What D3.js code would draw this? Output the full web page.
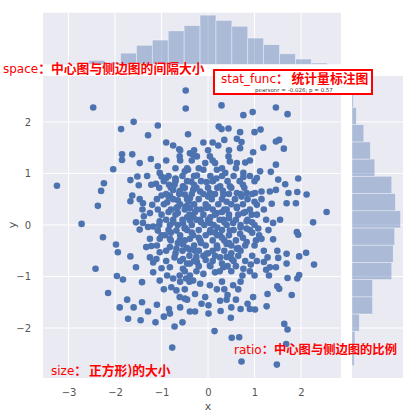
<!DOCTYPE html>
<html>
<head>
<meta charset="utf-8">
<script src="https://cdn.jsdelivr.net/npm/d3@7"></script>
<style>
  body { margin: 0; background: #fff; }
  svg { display: block; }
</style>
</head>
<body>
<svg id="chart" width="409" height="417"></svg>
<script>
// ---- data ----
const xTicks = [-3, -2, -1, 0, 1, 2];
const yTicks = [-2, -1, 0, 1, 2];

// marginal histograms (counts per bin, low -> high)
const xBinStart = -3.25, xBinWidth = 0.342;
const xCounts = [1, 1, 6, 3, 17, 29, 37, 51, 59, 75, 67, 58, 40, 30, 16, 8, 2];
const yBinStart = -2.73, yBinWidth = 0.334;
const yCounts = [3, 4, 10, 28, 28, 54, 56, 58, 66, 59, 54, 31, 25, 16, 6, 2];

const statText = "pearsonr = -0.026; p = 0.57";

// scatter points [x, y]
const points = [
  // upper left
  [-0.48,2.61],[-0.48,2.26],[-2.47,2.28],[-1.60,2.0],[-1.08,1.93],[-1.87,1.86],[-1.29,1.74],[-0.43,1.76],
  [-0.75,1.54],[-0.62,1.47],[-0.39,1.39],[-0.61,1.33],[-1.85,1.37],[-1.63,1.37],[-1.85,1.26],[-1.47,1.20],
  [-1.23,1.28],[-2.04,1.08],[-1.08,1.14],[-1.04,1.01],[-0.50,1.04],[-0.43,1.07],[-3.25,0.76],[-2.24,0.81],
  [-2.30,0.66],[-2.37,0.37],[-2.72,0.02],[-1.67,0.87],[-1.52,0.94],[-1.49,0.77],[-1.31,0.95],[-1.22,0.78],
  [-1.12,0.80],[-1.00,0.94],[-0.90,0.91],[-0.70,0.89],[-0.84,0.78],[-0.72,0.78],[-0.75,0.68],[-0.54,0.75],
  [-0.36,0.84],[-0.61,0.65],[-0.50,0.59],[-0.39,0.52],[-1.00,0.57],[-0.82,0.57],[-1.63,0.57],[-1.67,0.46],
  [-1.47,0.50],[-1.40,0.42],[-1.20,0.39],[-0.88,0.44],[-0.65,0.48],[-1.41,0.30],[-1.08,0.30],[-0.68,0.33],
  [-0.65,0.23],[-0.47,0.36],[-1.25,0.23],[-1.38,0.17],[-1.55,0.05],[-1.40,0.04],[-1.04,0.07],[-0.75,0.10],
  [-0.54,0.04],[-0.39,0.09],[-0.82,0.00],[-1.18,-0.03],
  // upper right
  [0.29,2.32],[1.46,2.28],[0.96,2.19],[0.76,2.13],[1.71,2.15],[0.23,1.91],[0.29,1.86],[0.44,1.87],
  [0.69,1.80],[1.00,1.80],[1.13,1.85],[0.62,1.67],[0.35,1.65],[0.22,1.54],[0.72,1.61],[0.69,1.49],
  [0.97,1.41],[1.19,1.50],[1.46,1.62],[1.53,1.65],[1.63,1.48],[-0.32,1.36],[-0.24,1.33],[0.04,1.33],
  [-0.06,1.20],[0.15,1.20],[0.44,1.33],[0.47,1.23],[0.62,1.20],[0.80,1.21],[1.46,1.17],[-0.10,1.07],
  [0.19,1.07],[0.37,1.01],[0.76,1.01],[1.12,1.04],[1.35,1.03],[-0.24,0.96],[0.76,0.93],[1.05,0.91],
  [1.51,0.88],[1.94,0.90],[1.66,0.79],[-0.03,0.83],[0.11,0.86],[0.26,0.75],[0.47,0.75],[1.15,0.65],
  [1.33,0.65],[1.46,0.68],[1.73,0.62],[1.92,0.64],[2.12,0.59],[-0.32,0.68],[-0.17,0.65],[0.04,0.62],
  [0.33,0.59],[0.62,0.62],[0.83,0.62],[1.01,0.62],[1.69,0.42],[1.89,0.42],[1.37,0.41],[1.05,0.39],
  [2.55,0.25],[2.26,0.05],[-0.24,0.30],[-0.03,0.33],[0.19,0.23],[0.40,0.30],[0.62,0.33],[0.76,0.23],
  [0.94,0.20],[-0.17,0.10],[0.04,0.04],[0.33,0.10],[0.54,0.04],[0.83,0.07],[1.40,0.04],[1.55,0.10],
  [-0.39,0.33],[-0.32,0.17],
  // lower left
  [-2.26,-0.24],[-1.98,-0.38],[-1.94,-0.53],[-1.67,-0.61],[-2.42,-0.85],[-1.55,-0.82],[-1.96,-0.99],[-1.83,-1.06],
  [-1.42,-1.11],[-2.15,-1.32],[-1.74,-1.45],[-1.90,-1.60],[-1.60,-1.60],[-1.42,-1.50],[-1.29,-1.68],[-1.10,-1.55],
  [-1.72,-1.82],[-1.45,-1.85],[-1.13,-1.89],[-0.95,-1.78],[-0.84,-1.63],[-0.82,-1.72],[-0.72,-1.97],[-0.55,-1.89],
  [-0.39,-1.68],[-0.77,-2.38],[-0.61,-1.40],[-0.50,-1.43],[-0.79,-1.21],[-0.68,-1.27],[-1.04,-1.08],[-1.18,-0.92],
  [-1.00,-0.84],[-0.88,-0.98],[-0.75,-1.04],[-0.61,-0.98],[-0.47,-1.04],[-0.39,-0.98],[-1.18,-0.73],[-1.33,-0.43],
  [-1.22,-0.41],[-1.04,-0.53],[-1.25,-0.63],[-1.11,-0.66],[-0.82,-0.43],[-0.68,-0.46],[-0.54,-0.38],[-0.39,-0.48],
  [-0.72,-0.63],[-0.54,-0.66],[-0.39,-0.75],[-0.82,-0.82],[-0.54,-0.85],[-1.47,-0.09],[-1.29,-0.04],[-1.08,-0.11],
  [-1.25,-0.27],[-1.04,-0.27],[-0.93,-0.20],[-0.82,-0.27],[-0.68,-0.11],[-0.50,-0.07],[-0.39,-0.27],[-0.61,-0.30],
  // lower right
  [1.91,-0.14],[1.94,-0.19],[1.08,-0.07],[1.40,-0.28],[1.15,-0.27],[1.03,-0.30],[0.83,-0.33],[1.49,-0.50],
  [1.69,-0.56],[1.51,-0.64],[1.28,-0.63],[1.96,-0.61],[2.11,-0.54],[2.28,-0.77],[1.20,-0.72],[1.33,-0.82],
  [1.46,-0.82],[1.69,-0.75],[1.25,-0.87],[1.31,-0.98],[1.71,-1.03],[1.96,-0.97],[1.92,-1.04],[1.00,-0.98],
  [0.92,-0.77],[0.76,-0.85],[0.74,-0.98],[0.54,-1.17],[0.42,-1.36],[0.97,-1.40],[1.28,-1.34],[1.49,-1.19],
  [1.53,-1.24],[1.80,-1.36],[0.85,-1.53],[0.90,-1.63],[1.01,-1.64],[0.70,-1.63],[1.26,-1.58],[0.49,-1.80],
  [0.27,-1.67],[1.64,-1.92],[1.71,-2.03],[0.14,-2.06],[0.51,-2.19],[0.67,-2.18],[1.68,-2.31],[0.72,-2.65],
  [1.48,-2.71],[-0.32,-0.20],[-0.17,-0.30],[0.04,-0.14],[0.26,-0.20],[0.47,-0.11],[0.69,-0.17],[0.83,-0.07],
  [0.19,-0.40],[0.40,-0.37],[0.62,-0.46],[-0.28,-0.50],[-0.03,-0.56],[0.26,-0.63],[0.51,-0.66],[-0.24,-0.72],
  [0.04,-0.79],[0.33,-0.82],[-0.10,-0.95],[0.15,-0.92],[-0.32,-1.08],[-0.17,-1.14],[0.04,-1.17],[0.19,-1.25],
  [-0.28,-1.34],[-0.06,-1.40],[-0.14,-1.53],[0.01,-1.56],[-0.28,-1.68],[0.01,-1.72],[0.26,-1.47],
  // dense centre
  [-0.85,0.95],[-0.55,0.95],[-0.30,0.95],[0.05,0.95],[0.30,0.95],[0.55,0.95],[0.90,0.95],
  [-0.95,0.85],[-0.70,0.85],[-0.45,0.85],[-0.15,0.85],[0.10,0.85],[0.42,0.85],[0.68,0.85],[1.00,0.85],
  [-1.05,0.72],[-0.80,0.72],[-0.50,0.72],[-0.25,0.72],[0.00,0.72],[0.20,0.72],[0.50,0.72],[0.78,0.72],
  [-0.90,0.60],[-0.62,0.60],[-0.35,0.60],[-0.10,0.60],[0.15,0.60],[0.45,0.60],[0.70,0.60],[0.95,0.60],
  [-1.10,0.50],[-0.75,0.50],[-0.45,0.50],[-0.20,0.50],[0.08,0.50],[0.30,0.50],[0.58,0.50],[0.85,0.50],[1.15,0.50],
  [-0.95,0.40],[-0.60,0.40],[-0.30,0.40],[-0.05,0.40],[0.22,0.40],[0.50,0.40],[0.75,0.40],
  [-0.80,0.30],[-0.50,0.30],[-0.15,0.30],[0.10,0.30],[0.35,0.30],[0.90,0.30],[1.20,0.30],
  [-1.00,0.20],[-0.70,0.20],[-0.40,0.20],[-0.10,0.20],[0.15,0.20],[0.45,0.20],[0.65,0.20],[1.05,0.20],
  [-0.90,0.10],[-0.55,0.10],[-0.25,0.10],[0.00,0.10],[0.25,0.10],[0.60,0.10],[0.85,0.10],[1.25,0.10],
  [-1.05,0.00],[-0.65,0.00],[-0.35,0.00],[-0.08,0.00],[0.12,0.00],[0.40,0.00],[0.70,0.00],[1.00,0.00],
  [-0.85,-0.10],[-0.45,-0.10],[-0.20,-0.10],[0.05,-0.10],[0.30,-0.10],[0.55,-0.10],[0.90,-0.10],[1.30,-0.10],
  [-1.00,-0.20],[-0.60,-0.20],[-0.05,-0.20],[0.20,-0.20],[0.45,-0.20],[1.10,-0.20],
  [-0.80,-0.30],[-0.50,-0.30],[0.10,-0.30],[0.35,-0.30],[0.60,-0.30],
  [-1.10,-0.40],[-0.30,-0.40],[-0.05,-0.40],[0.50,-0.40],[0.80,-0.40],[1.00,-0.40],
  [-0.90,-0.50],[-0.55,-0.50],[-0.20,-0.50],[0.10,-0.50],[0.35,-0.50],[0.70,-0.50],[1.20,-0.50],
  [-0.40,-0.60],[-0.10,-0.60],[0.15,-0.60],[0.65,-0.60],[0.95,-0.60],
  [-0.90,-0.70],[-0.60,-0.70],[-0.30,-0.70],[0.10,-0.70],[0.55,-0.70],[0.80,-0.70],[1.05,-0.70],
  [-0.20,-0.80],[0.05,-0.80],[0.42,-0.80],[0.60,-0.80],
  [-0.50,-0.90],[-0.25,-0.90],[0.25,-0.90],[0.50,-0.90],[0.90,-0.90],
  [-0.70,1.10],[-0.45,1.10],[-0.20,1.10],[0.30,1.10],[0.60,1.10],
  [-0.90,1.25],[-0.60,1.25],[-0.35,1.25],[0.10,1.25],[0.90,1.25],
  [-0.60,1.45],[-0.30,1.45],[0.00,1.45],[0.45,1.45],
  [-0.90,1.60],[-0.10,1.60],[0.10,1.60],
  [-0.60,-1.10],[-0.40,-1.10],[0.30,-1.10],[0.70,-1.10],
  [-0.95,-1.25],[-0.50,-1.25],[0.35,-1.25],[0.65,-1.25],
  [-0.45,-1.45],[0.40,-1.45],[0.60,-1.45],
  [-0.60,-1.60],[0.50,-1.60],
  [-0.70,0.90],[0.18,0.90],[0.75,0.78],[-0.30,0.78],[-0.60,0.66],[0.32,0.66],[-0.85,0.55],[0.00,0.55],
  [0.72,0.55],[-0.42,0.45],[0.40,0.45],[1.00,0.45],[-0.65,0.35],[0.00,0.35],[0.62,0.35],[-0.85,0.25],
  [-0.28,0.25],[0.30,0.25],[0.80,0.25],[-0.45,0.15],[0.05,0.15],[0.45,0.13],[-0.75,0.05],[-0.15,0.05],
  [0.35,0.05],[0.95,0.05],[-0.50,-0.05],[0.20,-0.05],[0.70,-0.05],[-0.80,-0.15],[-0.35,-0.15],[0.15,-0.15],
  [0.95,-0.15],[-0.20,-0.25],[0.30,-0.25],[0.75,-0.25],[-0.65,-0.35],[-0.15,-0.35],[0.45,-0.35],[-0.45,-0.45],
  [0.20,-0.45],[0.65,-0.45],[-0.70,-0.55],[0.00,-0.55],[0.50,-0.55],[-0.25,-0.62],[0.40,-0.62],[-0.45,-0.75],
  [0.30,-0.75],[-0.05,-0.68]
];

// annotation texts (latin part, chinese part)
const noteSpace = ["space", "：中心图与侧边图的间隔大小"];
const noteStat = ["stat_func", "：统计量标注图"];
const noteSize = ["size", "：正方形)的大小"];
const noteRatio = ["ratio", "：中心图与侧边图的比例"];

// ---- drawing ----
const svg = d3.select("#chart");
const bg = "#EAEAF2";
const blue = "#4C72B0";

const main = { left: 43, right: 341, top: 76, bottom: 378 };
const margTop = { top: 12.7, bottom: 64.3 };
const margRight = { left: 352, right: 403 };

const x = d3.scaleLinear().domain([-3.55, 2.86]).range([main.left, main.right]);
const y = d3.scaleLinear().domain([-2.97, 2.89]).range([main.bottom, main.top]);
const hx = d3.scaleLinear().domain([0, d3.max(xCounts) * 1.05]).range([margTop.bottom, margTop.top]);
const hy = d3.scaleLinear().domain([0, d3.max(yCounts) * 1.05]).range([margRight.left, margRight.right]);

const xBins = xCounts.map((c, i) => ({ x0: xBinStart + i * xBinWidth, x1: xBinStart + (i + 1) * xBinWidth, c }));
const yBins = yCounts.map((c, i) => ({ y0: yBinStart + i * yBinWidth, y1: yBinStart + (i + 1) * yBinWidth, c }));

// backgrounds
svg.append("rect").attr("x", main.left).attr("y", main.top)
  .attr("width", main.right - main.left).attr("height", main.bottom - main.top).attr("fill", bg);
svg.append("rect").attr("x", main.left).attr("y", margTop.top)
  .attr("width", main.right - main.left).attr("height", margTop.bottom - margTop.top).attr("fill", bg);
svg.append("rect").attr("x", margRight.left).attr("y", main.top)
  .attr("width", margRight.right - margRight.left).attr("height", main.bottom - main.top).attr("fill", bg);

// grid lines
const grid = svg.append("g").attr("stroke", "#fff").attr("stroke-width", 1);
xTicks.forEach(t => {
  grid.append("line").attr("x1", x(t)).attr("x2", x(t)).attr("y1", main.top).attr("y2", main.bottom);
  grid.append("line").attr("x1", x(t)).attr("x2", x(t)).attr("y1", margTop.top).attr("y2", margTop.bottom);
});
yTicks.forEach(t => {
  grid.append("line").attr("y1", y(t)).attr("y2", y(t)).attr("x1", main.left).attr("x2", main.right);
  grid.append("line").attr("y1", y(t)).attr("y2", y(t)).attr("x1", margRight.left).attr("x2", margRight.right);
});

// marginal histograms
svg.append("g").selectAll("rect").data(xBins).join("rect")
  .attr("x", d => x(d.x0)).attr("width", d => x(d.x1) - x(d.x0))
  .attr("y", d => hx(d.c)).attr("height", d => hx(0) - hx(d.c))
  .attr("fill", blue).attr("fill-opacity", 0.4)
  .attr("stroke", "#fff").attr("stroke-opacity", 0.45).attr("stroke-width", 0.8);

svg.append("g").selectAll("rect").data(yBins).join("rect")
  .attr("y", d => y(d.y1)).attr("height", d => y(d.y0) - y(d.y1))
  .attr("x", hy(0)).attr("width", d => hy(d.c) - hy(0))
  .attr("fill", blue).attr("fill-opacity", 0.4)
  .attr("stroke", "#fff").attr("stroke-opacity", 0.45).attr("stroke-width", 0.8);

// scatter
svg.append("g").selectAll("circle").data(points).join("circle")
  .attr("cx", d => x(d[0])).attr("cy", d => y(d[1])).attr("r", 3.3)
  .attr("fill", blue);

// axes
const xAxis = svg.append("g").attr("transform", `translate(0,${main.bottom + 8})`)
  .call(d3.axisBottom(x).tickValues(xTicks).tickSize(0).tickFormat(d3.format("d")));
xAxis.select(".domain").remove();
xAxis.selectAll("text").attr("font-family", "DejaVu Sans").attr("font-size", 10).attr("fill", "#555");

const yAxis = svg.append("g").attr("transform", `translate(${main.left - 9},0)`)
  .call(d3.axisLeft(y).tickValues(yTicks).tickSize(0).tickFormat(d3.format("d")));
yAxis.select(".domain").remove();
yAxis.selectAll("text").attr("font-family", "DejaVu Sans").attr("font-size", 10).attr("fill", "#555");

svg.append("text").attr("x", x(0)).attr("y", 410).attr("text-anchor", "middle")
  .attr("font-family", "DejaVu Sans").attr("font-size", 11).attr("fill", "#555").text("x");
svg.append("text").attr("transform", `translate(16,${y(0)}) rotate(-90)`).attr("text-anchor", "middle")
  .attr("font-family", "DejaVu Sans").attr("font-size", 11).attr("fill", "#555").text("y");

// annotations
function note(parts, lx, base, cx, size) {
  const t = svg.append("text").attr("y", base).attr("fill", "#f00");
  t.append("tspan").attr("x", lx).attr("font-family", "DejaVu Sans").attr("font-size", 12).text(parts[0]);
  t.append("tspan").attr("font-family", "Noto Sans CJK SC").attr("font-weight", "bold")
    .attr("font-size", size).text(parts[1].slice(0, 1));
  const rest = t.append("tspan").attr("font-family", "Noto Sans CJK SC").attr("font-weight", "bold")
    .attr("font-size", size).text(parts[1].slice(1));
  if (cx != null) rest.attr("x", cx);
}

svg.append("rect").attr("x", 214).attr("y", 70).attr("width", 158).attr("height", 24)
  .attr("fill", "#fff").attr("stroke", "#f00").attr("stroke-width", 2);
svg.append("text").attr("x", 294).attr("y", 91.5).attr("text-anchor", "middle")
  .attr("font-family", "DejaVu Sans").attr("font-size", 5.5).attr("fill", "#444").text(statText);

note(noteSpace, 3, 73, null, 12.8);
note(noteStat, 221, 83, 291.5, 12.8);
note(noteSize, 51, 375, 89, 12.8);
note(noteRatio, 234, 354, null, 12.3);
</script>
</body>
</html>
